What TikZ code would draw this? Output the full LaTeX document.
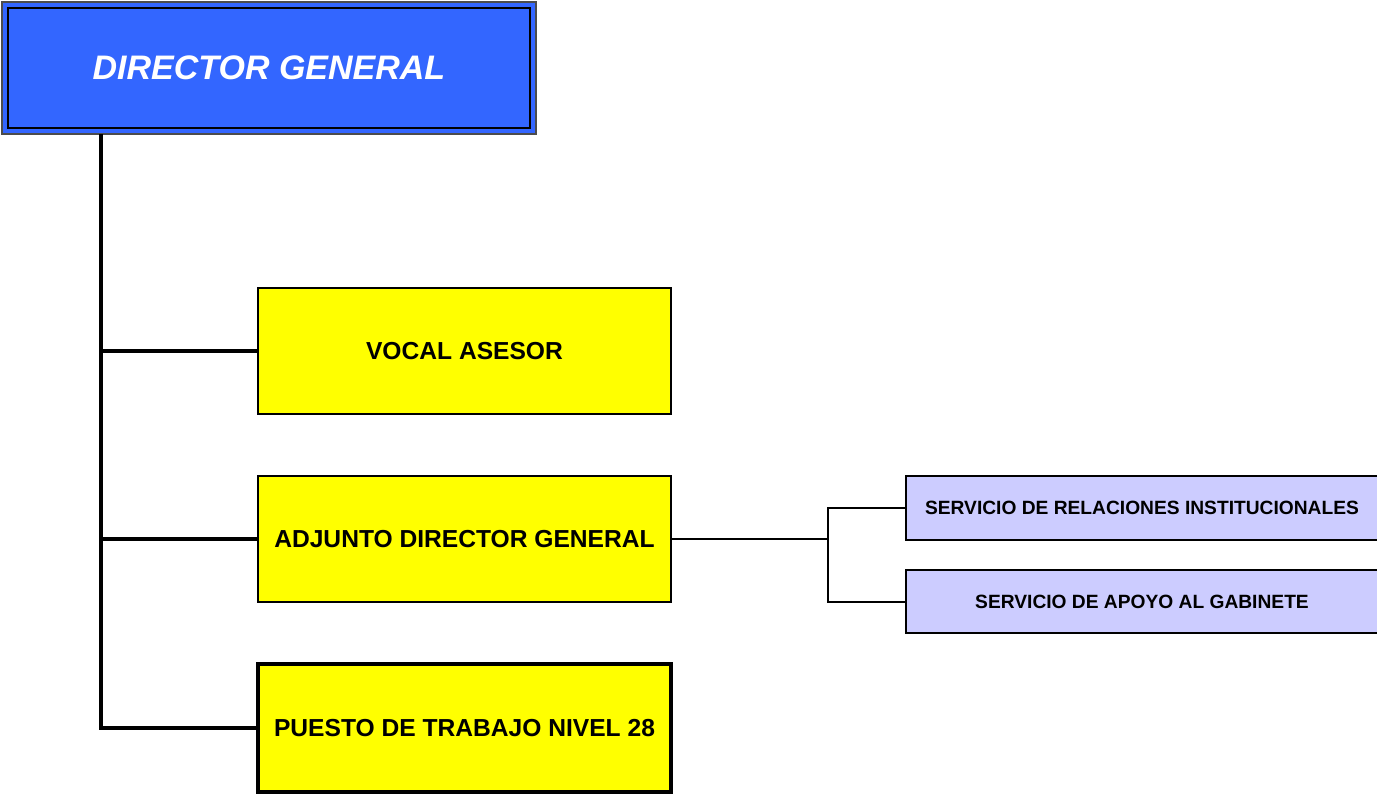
\documentclass[tikz,border=0pt]{standalone}
\usepackage{fontspec}
\setmainfont{Liberation Sans}
\definecolor{dirblue}{HTML}{3366FF}
\definecolor{servblue}{HTML}{CCCCFF}
\definecolor{unityellow}{HTML}{FFFF00}
\begin{document}
\begin{tikzpicture}[x=0.5pt,y=-0.5pt,
        unit/.style={draw=black, line width=1pt, fill=unityellow, minimum width=206.5pt, minimum height=63pt, font=\fontsize{12.3}{14}\selectfont\bfseries},
        serv/.style={draw=black, line width=1pt, fill=servblue, minimum width=236pt, minimum height=32pt, font=\fontsize{9.6}{11}\selectfont\bfseries},
        trunk/.style={line width=2.2pt},
        thin/.style={line width=1pt}]
        \useasboundingbox (0,0) rectangle (1377,794);
        \node[draw=black!70, line width=1pt, fill=dirblue, minimum width=267pt, minimum height=66pt, text=white, font=\fontsize{17}{20}\selectfont\bfseries\itshape] (dg) at (269,68) {DIRECTOR GENERAL};
        \draw[line width=1.4pt] ([shift={(3.5pt,3.5pt)}]dg.south west) rectangle ([shift={(-3.5pt,-3.5pt)}]dg.north east);
        \node[unit] (vocal) at (464.5,351) {VOCAL ASESOR};
        \node[unit] (adjunto) at (464.5,539) {ADJUNTO DIRECTOR GENERAL};
        \node[unit, line width=2pt, minimum height=64pt] (puesto) at (464.5,728) {PUESTO DE TRABAJO NIVEL 28};
        \node[serv] (rel) at (1142,508) {SERVICIO DE RELACIONES INSTITUCIONALES};
        \node[serv, minimum height=31.5pt] (apoyo) at (1142,601.5) {SERVICIO DE APOYO AL GABINETE};
        % organigrama
        \coordinate (top) at (101,134);
        \coordinate (fork) at (828,539);
        \draw[trunk] (top) |- (puesto.west);
        \draw[trunk] (top |- vocal.west) -- (vocal.west);
        \draw[trunk] (top |- adjunto.west) -- (adjunto.west);
        \draw[thin] (adjunto.east) -- (fork);
        \draw[thin] (rel.west) -| (fork) |- (apoyo.west);
    \end{tikzpicture}
\end{document}
